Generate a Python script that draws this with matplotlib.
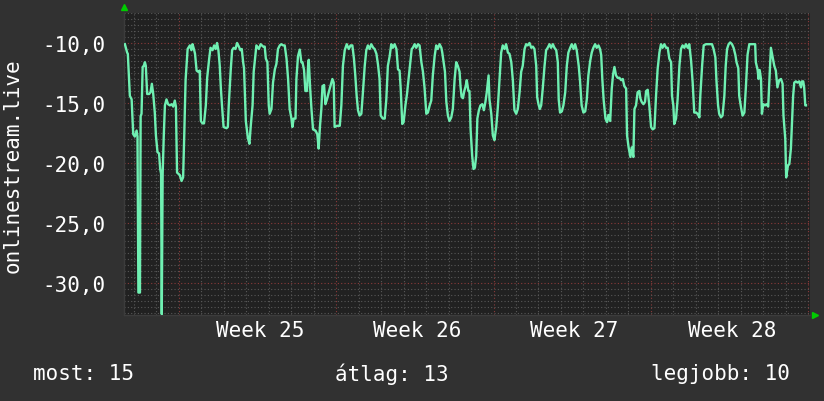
import matplotlib
matplotlib.use("Agg")
import matplotlib.pyplot as plt
from matplotlib.ticker import MultipleLocator, FuncFormatter, NullFormatter

# time in days from the start of week 25
days = [
    -2.40, -2.30, -2.27, -2.18, -2.10, -2.03, -1.96, -1.88, -1.84, -1.80,
    -1.73, -1.70, -1.66, -1.61, -1.56, -1.51, -1.47, -1.41, -1.32, -1.26,
    -1.20, -1.14, -1.07, -1.02, -0.95, -0.88, -0.83, -0.79, -0.76, -0.72,
    -0.67, -0.62, -0.55, -0.48, -0.40, -0.32, -0.25, -0.18, -0.13, -0.08,
    0.04, 0.12, 0.19, 0.24, 0.30, 0.39, 0.49, 0.56, 0.61, 0.67,
    0.72, 0.79, 0.86, 0.93, 0.98, 1.05, 1.12, 1.20, 1.26, 1.35,
    1.41, 1.50, 1.57, 1.64, 1.70, 1.76, 1.82, 1.87, 1.92, 1.99,
    2.12, 2.18, 2.22, 2.31, 2.37, 2.44, 2.52, 2.59, 2.67, 2.74,
    2.80, 2.86, 2.90, 2.98, 3.07, 3.14, 3.20, 3.28, 3.33, 3.41,
    3.45, 3.56, 3.64, 3.75, 3.82, 3.87, 3.94, 4.00, 4.04, 4.12,
    4.19, 4.27, 4.34, 4.41, 4.49, 4.56, 4.64, 4.71, 4.79, 4.86,
    4.93, 5.01, 5.05, 5.11, 5.19, 5.23, 5.30, 5.38, 5.45, 5.50,
    5.57, 5.63, 5.70, 5.75, 5.78, 5.84, 5.90, 5.97, 6.08, 6.16,
    6.22, 6.28, 6.34, 6.39, 6.46, 6.52, 6.59, 6.67, 6.76, 6.83,
    6.89, 6.93, 7.05, 7.16, 7.23, 7.30, 7.38, 7.47, 7.56, 7.64,
    7.72, 7.79, 7.85, 7.91, 7.97, 8.04, 8.12, 8.19, 8.27, 8.34,
    8.41, 8.49, 8.56, 8.65, 8.71, 8.79, 8.86, 8.93, 8.98, 9.08,
    9.16, 9.23, 9.30, 9.38, 9.45, 9.52, 9.60, 9.68, 9.75, 9.82,
    9.87, 9.94, 10.00, 10.08, 10.15, 10.22, 10.30, 10.36, 10.41, 10.49,
    10.56, 10.64, 10.71, 10.79, 10.86, 10.93, 11.01, 11.08, 11.16, 11.23,
    11.30, 11.38, 11.45, 11.52, 11.60, 11.68, 11.72, 11.78, 11.84, 11.90,
    11.97, 12.04, 12.12, 12.19, 12.27, 12.34, 12.41, 12.49, 12.53, 12.58,
    12.64, 12.70, 12.76, 12.81, 12.88, 12.93, 12.98, 13.05, 13.11, 13.17,
    13.23, 13.28, 13.35, 13.42, 13.50, 13.57, 13.64, 13.70, 13.78, 13.82,
    13.90, 13.97, 14.04, 14.12, 14.19, 14.27, 14.34, 14.41, 14.49, 14.56,
    14.64, 14.71, 14.79, 14.86, 14.93, 15.01, 15.08, 15.16, 15.23, 15.30,
    15.38, 15.45, 15.52, 15.60, 15.68, 15.75, 15.82, 15.90, 15.94, 16.00,
    16.06, 16.12, 16.19, 16.27, 16.34, 16.41, 16.49, 16.56, 16.64, 16.71,
    16.79, 16.86, 16.90, 16.96, 17.04, 17.11, 17.19, 17.26, 17.33, 17.41,
    17.48, 17.56, 17.63, 17.70, 17.79, 17.85, 17.92, 18.00, 18.08, 18.15,
    18.22, 18.30, 18.37, 18.44, 18.52, 18.59, 18.67, 18.74, 18.79, 18.84,
    18.90, 18.98, 19.05, 19.11, 19.19, 19.26, 19.32, 19.38, 19.45, 19.52,
    19.60, 19.68, 19.75, 19.82, 19.90, 19.94, 20.01, 20.09, 20.15, 20.22,
    20.27, 20.34, 20.41, 20.49, 20.53, 20.59, 20.67, 20.74, 20.79, 20.86,
    20.93, 21.01, 21.08, 21.16, 21.23, 21.30, 21.38, 21.45, 21.52, 21.60,
    21.68, 21.75, 21.82, 21.90, 21.94, 22.00, 22.04, 22.12, 22.19, 22.27,
    22.34, 22.41, 22.49, 22.56, 22.64, 22.71, 22.79, 22.86, 22.93, 23.01,
    23.08, 23.16, 23.20, 23.28, 23.35, 23.45, 23.60, 23.72, 23.79, 23.87,
    23.92, 23.99, 24.04, 24.12, 24.19, 24.27, 24.33, 24.39, 24.46, 24.53,
    24.61, 24.68, 24.76, 24.81, 24.89, 24.93, 25.01, 25.08, 25.16, 25.23,
    25.30, 25.38, 25.48, 25.57, 25.64, 25.67, 25.75, 25.79, 25.84, 25.90,
    25.94, 26.00, 26.08, 26.15, 26.22, 26.30, 26.34, 26.41, 26.49, 26.56,
    26.63, 26.71, 26.79, 26.86, 26.90, 26.98, 27.02, 27.10, 27.16, 27.23,
    27.28, 27.33, 27.38, 27.45, 27.52, 27.60, 27.68, 27.72, 27.78, 27.82,
    27.87, 27.90,
]
values = [
    -10.1, -10.8, -10.9, -14.4, -14.7, -17.6, -17.8, -17.3, -17.8, -30.8,
    -30.8, -16.1, -15.9, -12.0, -11.9, -11.6, -11.9, -14.25, -14.25, -14.1,
    -13.4, -14.25, -15.8, -17.7, -19.1, -19.2, -20.5, -20.9, -32.6, -20.9,
    -17.7, -15.2, -14.7, -15.1, -15.2, -15.1, -15.3, -14.8, -15.3, -20.8,
    -21.0, -21.5, -21.2, -17.7, -13.1, -10.5, -10.2, -10.6, -10.1, -10.5,
    -10.9, -12.3, -12.4, -12.3, -16.5, -16.7, -16.7, -15.2, -12.9, -11.3,
    -10.4, -10.6, -10.2, -10.5, -10.0, -10.6, -11.9, -13.8, -15.2, -17.0,
    -17.1, -17.0, -15.2, -12.2, -10.6, -10.4, -10.5, -10.0, -10.3, -10.6,
    -10.5, -11.6, -12.1, -16.5, -17.9, -18.4, -16.9, -15.2, -12.4, -10.9,
    -10.2, -10.5, -10.1, -10.3, -10.3, -11.3, -11.6, -15.2, -15.9, -15.5,
    -13.3, -12.2, -11.75, -10.5, -10.2, -10.1, -10.2, -10.2, -11.3, -13.0,
    -15.5, -16.3, -17.0, -16.3, -16.3, -13.0, -11.1, -10.55, -11.6, -11.6,
    -12.25, -14.0, -14.0, -11.9, -11.4, -13.7, -15.5, -17.2, -17.3, -17.6,
    -18.8, -16.9, -15.5, -13.6, -13.5, -15.1, -14.7, -14.1, -13.5, -13.0,
    -13.3, -17.0, -16.9, -16.9, -15.2, -11.9, -10.6, -10.1, -10.5, -10.2,
    -10.2, -11.3, -12.7, -14.4, -15.6, -16.05, -15.9, -14.1, -11.9, -10.6,
    -10.2, -10.5, -10.1, -10.4, -10.5, -10.9, -11.8, -13.0, -16.05, -16.3,
    -16.3, -14.7, -11.9, -11.1, -10.1, -10.4, -10.1, -10.5, -12.2, -12.3,
    -13.8, -16.75, -16.6, -15.2, -14.25, -13.0, -11.6, -10.5, -10.4, -10.1,
    -10.4, -10.1, -10.2, -11.6, -12.4, -13.7, -15.9, -15.8, -15.2, -14.8,
    -12.7, -11.1, -10.2, -10.5, -10.1, -10.4, -10.8, -11.6, -12.4, -14.9,
    -16.05, -16.5, -16.2, -15.5, -13.0, -11.6, -11.9, -12.4, -13.6, -14.5,
    -14.6, -14.0, -13.6, -13.1, -14.0, -14.0, -17.2, -19.4, -20.5, -20.4,
    -19.4, -16.3, -15.6, -15.2, -15.1, -15.6, -14.9, -14.1, -12.7, -14.7,
    -15.9, -17.7, -18.1, -17.0, -15.4, -13.0, -10.8, -10.2, -10.5, -10.1,
    -10.8, -10.9, -11.6, -13.1, -15.6, -15.9, -15.5, -14.1, -12.4, -11.9,
    -10.5, -10.1, -10.2, -10.0, -10.4, -10.3, -10.5, -11.9, -14.5, -15.1,
    -15.5, -15.2, -13.8, -11.9, -10.6, -10.4, -10.1, -10.4, -10.1, -10.4,
    -10.6, -11.6, -14.7, -15.8, -15.7, -15.2, -14.1, -11.9, -10.8, -10.4,
    -10.1, -10.5, -10.1, -10.6, -11.9, -13.2, -15.2, -15.8, -15.7, -14.7,
    -12.7, -11.5, -10.8, -10.4, -10.1, -10.4, -10.2, -10.5, -11.0, -13.0,
    -14.75, -16.3, -16.6, -16.0, -16.5, -13.8, -12.6, -12.0, -12.7, -12.9,
    -12.9, -13.1, -13.0, -13.6, -13.8, -17.7, -18.7, -19.5, -18.7, -19.5,
    -15.5, -15.2, -14.1, -14.0, -14.6, -14.9, -15.1, -14.9, -14.0, -13.9,
    -15.2, -17.0, -17.2, -17.1, -14.4, -12.2, -10.8, -10.1, -10.4, -10.1,
    -10.4, -10.4, -11.3, -11.6, -14.4, -15.2, -16.75, -16.3, -14.7, -11.9,
    -10.5, -10.2, -10.4, -10.1, -10.4, -10.1, -11.5, -13.3, -15.8, -15.8,
    -15.9, -16.2, -14.4, -11.9, -10.2, -10.1, -10.1, -10.1, -10.5, -11.2,
    -13.2, -15.2, -15.9, -16.2, -16.05, -14.4, -11.9, -10.5, -10.1, -9.95,
    -10.1, -10.4, -11.0, -11.6, -12.1, -14.4, -15.35, -16.05, -15.8, -13.6,
    -11.0, -10.1, -10.1, -10.1, -10.1, -11.6, -12.25, -13.0, -12.25, -13.0,
    -15.9, -15.1, -15.2, -15.1, -15.3, -11.9, -10.4, -11.1, -11.9, -12.3,
    -13.7, -13.1, -13.0, -13.4, -16.05, -18.0, -21.2, -20.2, -20.1, -18.8,
    -16.6, -14.4, -13.3, -13.2, -13.3, -13.2, -13.7, -13.2, -13.2, -13.7,
    -15.2, -15.2,
]
week_labels = ["Week 25", "Week 26", "Week 27", "Week 28"]
week_label_days = [3.6, 10.6, 17.6, 24.6]
y_label = "onlinestream.live"
stats = ["most: 15", "átlag: 13", "legjobb: 10"]

BG = "#313131"
CANVAS = "#212121"
LINE = "#6FF0B2"
FONT = "DejaVu Sans Mono"
FS = 15

fig = plt.figure(figsize=(8.24, 4.02), dpi=100, facecolor=BG)
ax = fig.add_axes([124 / 824, 1 - 316 / 402, 686 / 824, 302 / 402])
ax.set_facecolor(CANVAS)

ax.plot(days, values, color=LINE, linewidth=1.7, zorder=3)

ax.set_xlim(-2.44, 28.08)
ax.set_ylim(-32.67, -7.5)

# grid: minor dotted gray, major dotted red
ax.xaxis.set_major_locator(MultipleLocator(7))
ax.xaxis.set_minor_locator(MultipleLocator(1))
ax.yaxis.set_major_locator(MultipleLocator(5))
ax.yaxis.set_minor_locator(MultipleLocator(0.5))
ax.grid(which="minor", color="#585858", linestyle=(0, (1, 2)), linewidth=0.8)
ax.grid(which="major", color="#8a3a3a", linestyle=(0, (1, 2)), linewidth=0.8)
ax.set_axisbelow(True)

ax.xaxis.set_major_formatter(NullFormatter())
ax.yaxis.set_major_formatter(FuncFormatter(lambda v, _: f"{v:.1f}".replace(".", ",")))
ax.tick_params(which="both", length=0)
ax.tick_params(axis="y", colors="white", labelsize=FS, pad=13)
for lab in ax.get_yticklabels():
    lab.set_family(FONT)

for s in ["top", "right"]:
    ax.spines[s].set_visible(False)
for s in ["left", "bottom"]:
    ax.spines[s].set_color("#3c3c3c")
    ax.spines[s].set_linewidth(1.0)

for d, lab in zip(week_label_days, week_labels):
    ax.text(d, -0.05, lab, transform=ax.get_xaxis_transform(), ha="center",
            va="center", color="white", fontsize=FS, family=FONT)

# rrdtool-style arrows on the axes
ax.plot([0], [1.02], marker="^", color="#00cc00", markersize=5,
        transform=ax.transAxes, clip_on=False)
ax.plot([1.008], [0], marker=">", color="#00cc00", markersize=5,
        transform=ax.transAxes, clip_on=False)

fig.text(13 / 824, 1 - 166 / 402, y_label, rotation=90, ha="center",
         va="center", color="white", fontsize=FS, family=FONT)
fig.text(33 / 824, 1 - 374 / 402, stats[0], ha="left", va="center",
         color="white", fontsize=FS, family=FONT)
fig.text(335 / 824, 1 - 374 / 402, stats[1], ha="left", va="center",
         color="white", fontsize=FS, family=FONT)
fig.text(790 / 824, 1 - 374 / 402, stats[2], ha="right", va="center",
         color="white", fontsize=FS, family=FONT)

fig.savefig("out.png", dpi=100, facecolor=BG)
